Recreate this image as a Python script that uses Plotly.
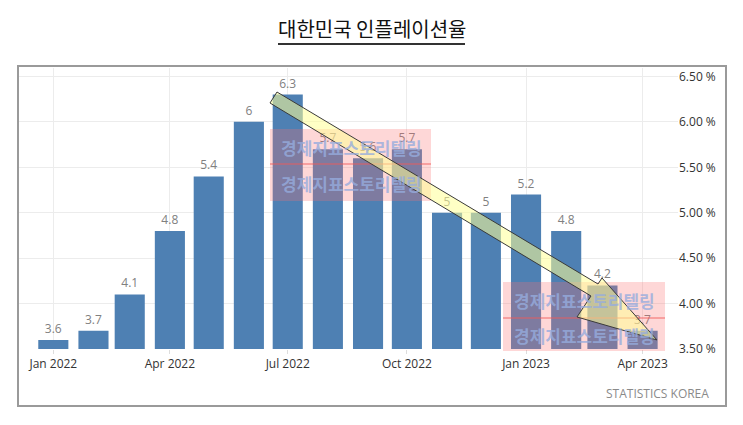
import plotly.graph_objects as go

# ---- data ----
months = ["2022-01-01", "2022-02-01", "2022-03-01", "2022-04-01", "2022-05-01",
          "2022-06-01", "2022-07-01", "2022-08-01", "2022-09-01", "2022-10-01",
          "2022-11-01", "2022-12-01", "2023-01-01", "2023-02-01", "2023-03-01",
          "2023-04-01"]
inflation = [3.6, 3.7, 4.1, 4.8, 5.4, 6.0, 6.3, 5.7, 5.6, 5.7, 5.0, 5.0, 5.2, 4.8, 4.2, 3.7]
value_labels = ["3.6", "3.7", "4.1", "4.8", "5.4", "6", "6.3", "5.7", "5.6", "5.7",
                "5", "5", "5.2", "4.8", "4.2", "3.7"]
y_ticks = [3.5, 4.0, 4.5, 5.0, 5.5, 6.0, 6.5]
y_tick_labels = ["3.50 %", "4.00 %", "4.50 %", "5.00 %", "5.50 %", "6.00 %", "6.50 %"]
title_text = "대한민국 인플레이션율"
source_text = "STATISTICS KOREA"
watermark_text = "경제지표스토리텔링"

W, H = 743, 425
PL, PR, PT, PB = 19, 678, 68, 349  # plot area in pixels


def px(x):
    return (x - PL) / (PR - PL)


def py(y):
    return (PB - y) / (PB - PT)


fig = go.Figure()
fig.add_trace(go.Bar(
    x=months, y=inflation,
    text=value_labels, textposition="outside",
    outsidetextfont=dict(family="Open Sans", size=12, color="#808080"),
    marker=dict(color="#4e80b3", line=dict(width=0)),
    cliponaxis=False,
    hoverinfo="x+y",
))

shapes = []
# outer frame
shapes.append(dict(type="rect", xref="paper", yref="paper",
                   x0=px(18), x1=px(726), y0=py(66), y1=py(406),
                   line=dict(color="#9a9a9a", width=2), fillcolor="rgba(0,0,0,0)"))
# title underline
shapes.append(dict(type="line", xref="paper", yref="paper",
                   x0=px(278), x1=px(465), y0=py(44), y1=py(44),
                   line=dict(color="#333333", width=2)))
# watermark boxes
for (x0, y0, x1, y1, ly) in [(270, 129, 431, 201, 164), (503, 282, 665, 351, 318)]:
    shapes.append(dict(type="rect", xref="paper", yref="paper",
                       x0=px(x0), x1=px(x1), y0=py(y0), y1=py(y1),
                       line=dict(width=0), fillcolor="rgba(250,110,110,0.28)", layer="above"))
    shapes.append(dict(type="line", xref="paper", yref="paper",
                       x0=px(x0), x1=px(x1), y0=py(ly), y1=py(ly),
                       line=dict(color="rgba(240,90,90,0.6)", width=1.5), layer="above"))

# arrow overlay
arrow_pts = [(277, 92), (598, 284), (602, 278), (657, 340), (577, 317), (591, 296), (270, 103)]
path = "M " + " L ".join(f"{px(x):.5f},{py(y):.5f}" for x, y in arrow_pts) + " Z"
shapes.append(dict(type="path", xref="paper", yref="paper", path=path,
                   fillcolor="rgba(255,255,150,0.55)",
                   line=dict(color="#3a3a3a", width=1), layer="above"))

annotations = [
    dict(text=title_text, xref="paper", yref="paper", x=px(372), y=py(29),
         xanchor="center", yanchor="middle", showarrow=False,
         font=dict(family="Noto Sans CJK KR", size=20, color="#111111")),
    dict(text=source_text, xref="paper", yref="paper", x=px(711), y=py(393),
         xanchor="right", yanchor="middle", showarrow=False,
         font=dict(family="Open Sans", size=12, color="#8a8a8a")),
]
for (cx, cy) in [(351, 147), (351, 183), (584, 300), (584, 335)]:
    annotations.append(dict(text="<b>" + watermark_text + "</b>", xref="paper", yref="paper",
                            x=px(cx), y=py(cy), xanchor="center", yanchor="middle",
                            showarrow=False,
                            font=dict(family="Noto Sans CJK KR", size=17,
                                      color="rgba(150,172,222,0.8)")))

fig.update_layout(
    width=W, height=H,
    margin=dict(l=PL, r=W - PR, t=PT, b=H - PB, pad=0),
    paper_bgcolor="white", plot_bgcolor="white",
    showlegend=False,
    bargap=0.17,
    shapes=shapes,
    annotations=annotations,
    font=dict(family="Open Sans", size=12, color="#333333"),
    xaxis=dict(type="date", range=["2021-12-05 12:00", "2023-04-28 08:00"],
               tick0="2022-01-01", dtick="M3", tickformat="%b %Y",
               showgrid=True, gridcolor="#ececec", gridwidth=1,
               ticks="outside", ticklen=4, tickcolor="#dddddd",
               showline=False, zeroline=False,
               tickfont=dict(family="Open Sans", size=12, color="#333333")),
    yaxis=dict(range=[3.5, 6.593], side="right", tickmode="array",
               tickvals=y_ticks, ticktext=y_tick_labels,
               showgrid=True, gridcolor="#ececec", gridwidth=1,
               showline=False, zeroline=False, ticks="",
               tickfont=dict(family="Open Sans", size=12, color="#333333")),
)

fig.write_html("out.html")
